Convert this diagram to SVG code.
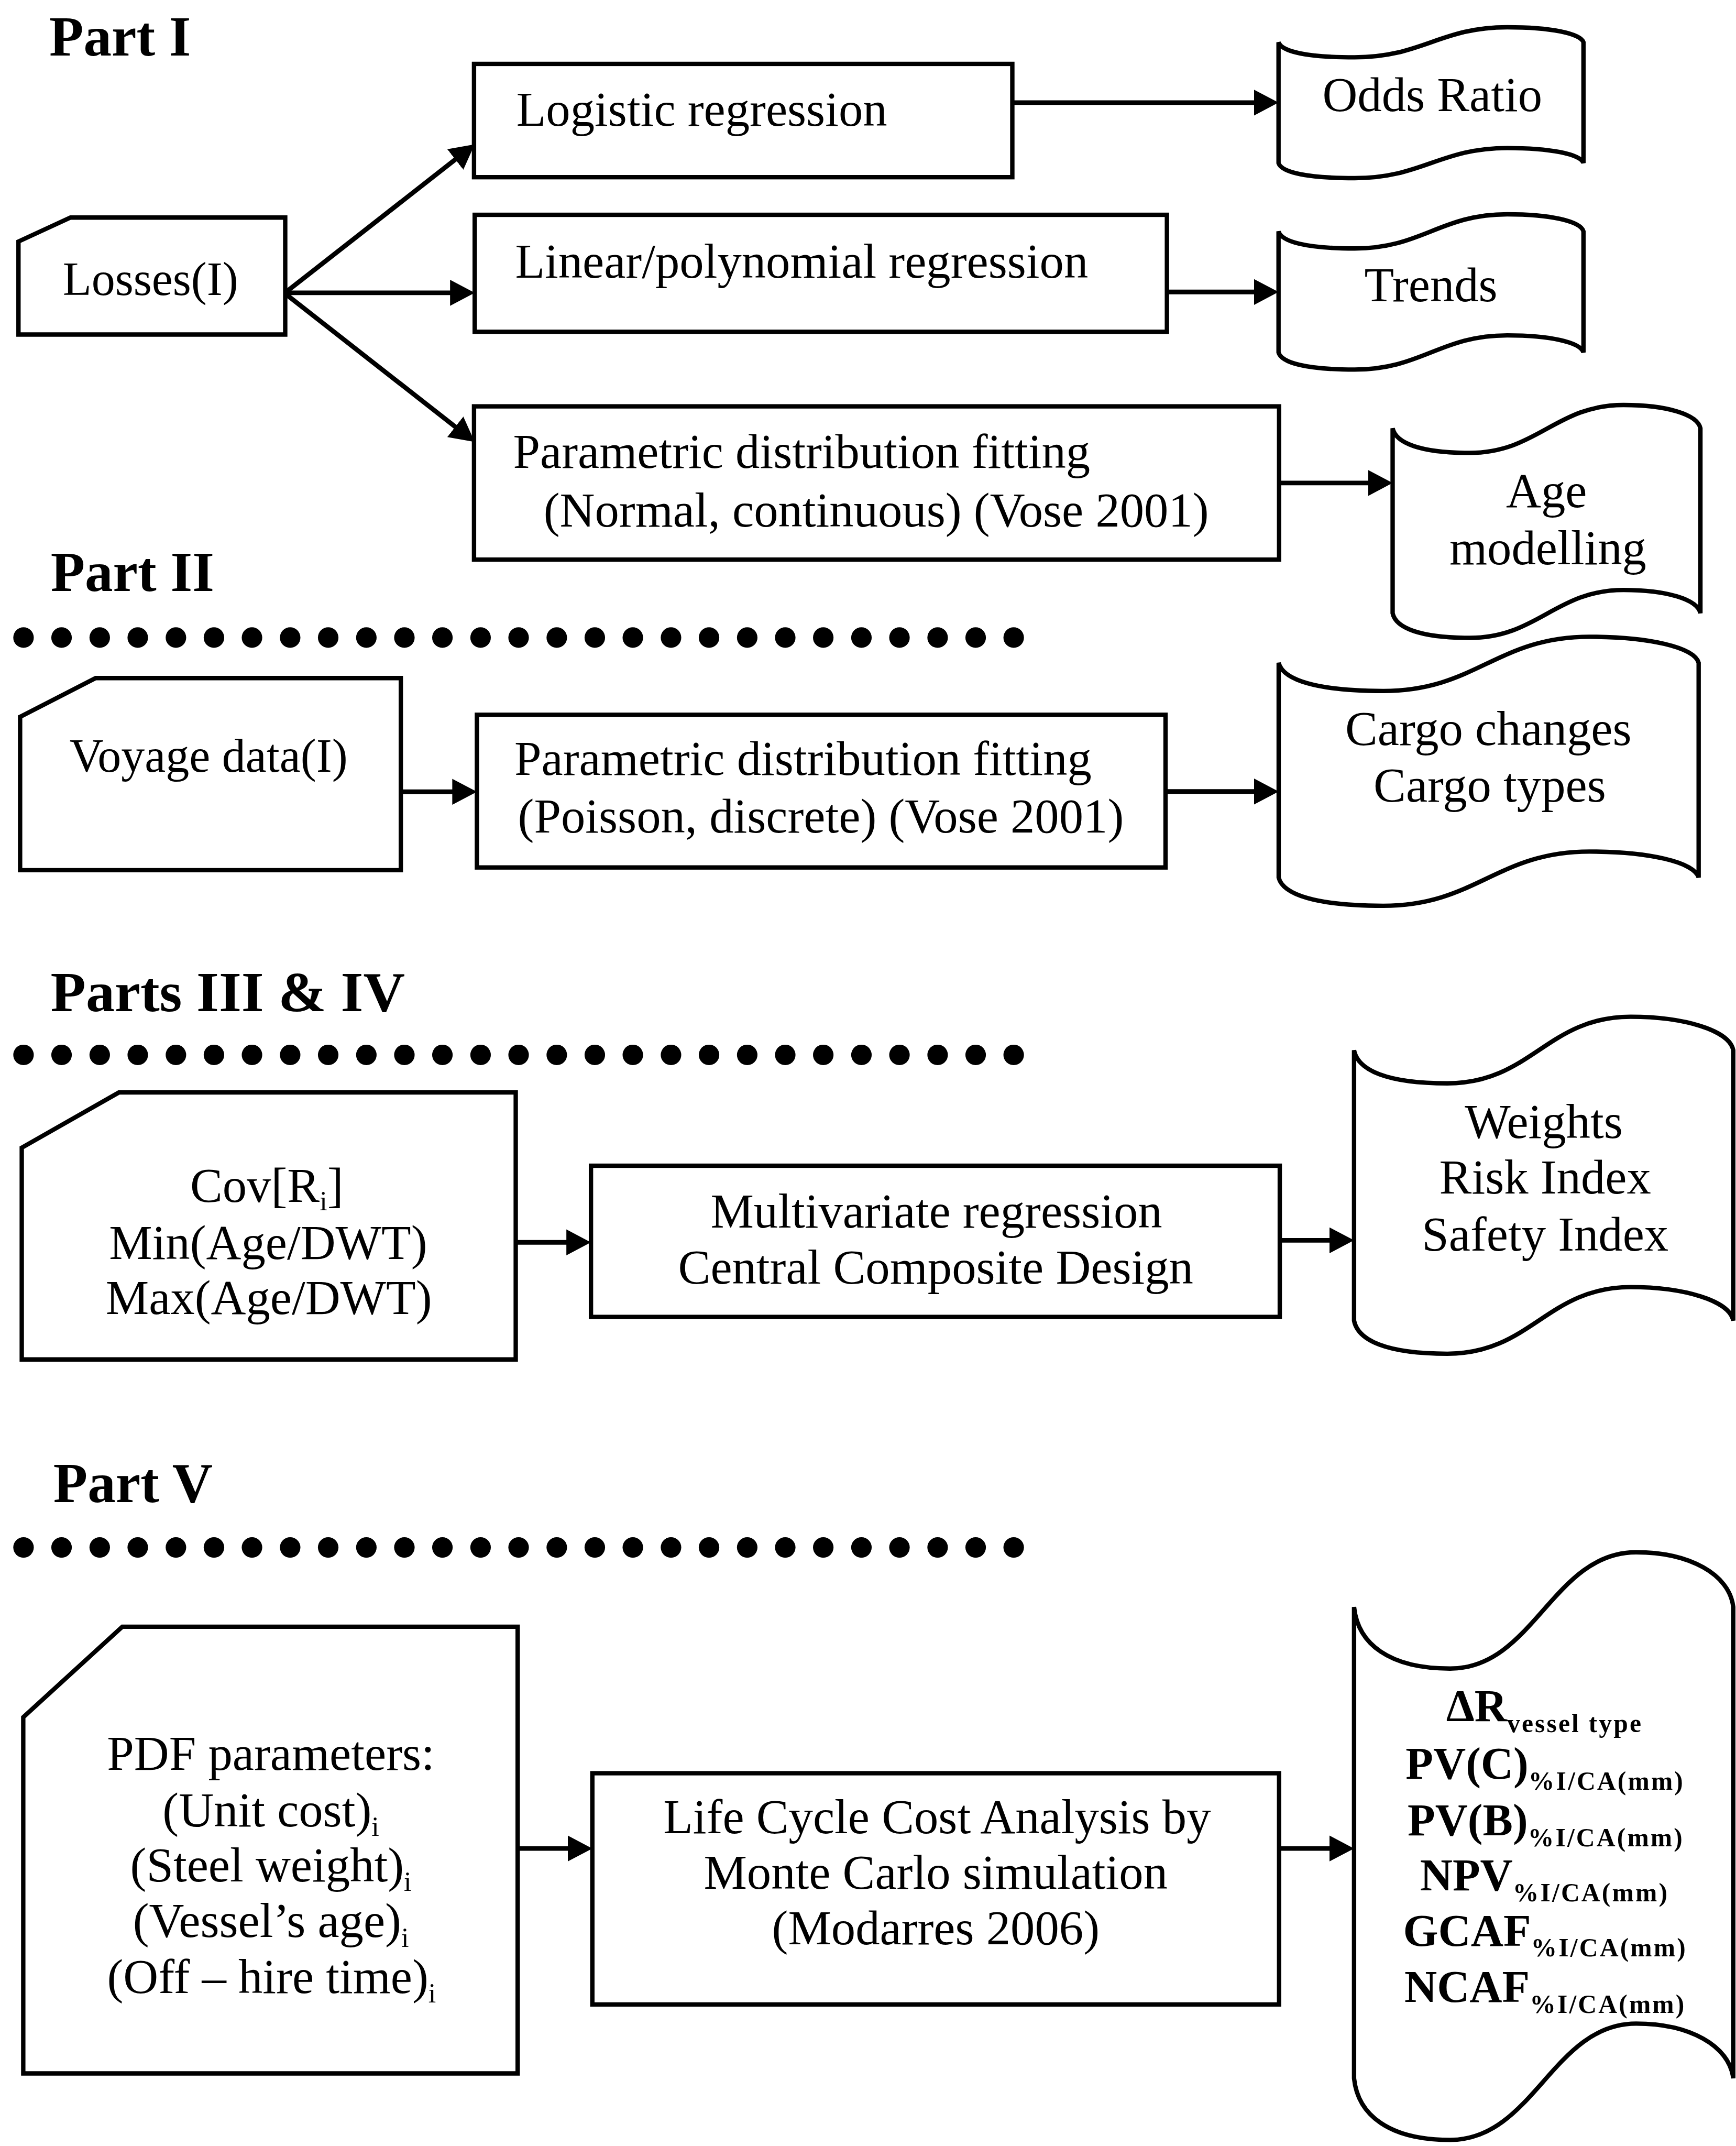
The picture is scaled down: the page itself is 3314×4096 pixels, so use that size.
<svg xmlns="http://www.w3.org/2000/svg" width="3314" height="4096" viewBox="0 0 3314 4096">
  <style>
    .box { fill: #fff; stroke: #000; stroke-width: 3.2; stroke-linejoin: miter; }
    .t { font-family: "Liberation Serif", "Times New Roman", serif; font-size: 35.5px; text-anchor: middle; fill: #000; }
    .h { font-family: "Liberation Serif", "Times New Roman", serif; font-size: 41px; font-weight: bold; fill: #000; }
    .r { font-family: "Liberation Serif", "Times New Roman", serif; font-size: 33px; font-weight: bold; text-anchor: middle; fill: #000; }
    .sb { font-size: 19px; letter-spacing: 1.2px; }
    .si { font-size: 20px; }
    .conn line { stroke: #000; stroke-width: 3.4; fill: none; }
    .dot { fill: #000; }
  </style>
  <defs>
    <marker id="ah" markerUnits="userSpaceOnUse" viewBox="0 0 18 19" markerWidth="18" markerHeight="19" refX="10" refY="9.5" orient="auto">
      <path d="M0,0 L18,9.5 L0,19 Z" fill="#000"/>
    </marker>
    <g id="dotrow">
      <circle class="dot" cx="17.2" cy="0" r="7.5"/>
      <circle class="dot" cx="45.0" cy="0" r="7.5"/>
      <circle class="dot" cx="72.9" cy="0" r="7.5"/>
      <circle class="dot" cx="100.7" cy="0" r="7.5"/>
      <circle class="dot" cx="128.6" cy="0" r="7.5"/>
      <circle class="dot" cx="156.4" cy="0" r="7.5"/>
      <circle class="dot" cx="184.2" cy="0" r="7.5"/>
      <circle class="dot" cx="212.1" cy="0" r="7.5"/>
      <circle class="dot" cx="239.9" cy="0" r="7.5"/>
      <circle class="dot" cx="267.8" cy="0" r="7.5"/>
      <circle class="dot" cx="295.6" cy="0" r="7.5"/>
      <circle class="dot" cx="323.4" cy="0" r="7.5"/>
      <circle class="dot" cx="351.3" cy="0" r="7.5"/>
      <circle class="dot" cx="379.1" cy="0" r="7.5"/>
      <circle class="dot" cx="407.0" cy="0" r="7.5"/>
      <circle class="dot" cx="434.8" cy="0" r="7.5"/>
      <circle class="dot" cx="462.6" cy="0" r="7.5"/>
      <circle class="dot" cx="490.5" cy="0" r="7.5"/>
      <circle class="dot" cx="518.3" cy="0" r="7.5"/>
      <circle class="dot" cx="546.2" cy="0" r="7.5"/>
      <circle class="dot" cx="574.0" cy="0" r="7.5"/>
      <circle class="dot" cx="601.8" cy="0" r="7.5"/>
      <circle class="dot" cx="629.7" cy="0" r="7.5"/>
      <circle class="dot" cx="657.5" cy="0" r="7.5"/>
      <circle class="dot" cx="685.4" cy="0" r="7.5"/>
      <circle class="dot" cx="713.2" cy="0" r="7.5"/>
      <circle class="dot" cx="741.0" cy="0" r="7.5"/>
    </g>
  </defs>

  <rect width="3314" height="4096" fill="#fff"/>

  <!-- layout drawn on a 1269-wide grid, scaled up to the full page -->
  <g transform="scale(2.6115)">

    <!-- section headings and dotted separators -->
    <g id="headings">
      <text class="h" x="36" y="40.7">Part I</text>
      <text class="h" x="37" y="432">Part II</text>
      <text class="h" x="37" y="739" textLength="259" lengthAdjust="spacingAndGlyphs">Parts III &amp; IV</text>
      <text class="h" x="39" y="1098">Part V</text>
      <use href="#dotrow" y="466"/>
      <use href="#dotrow" y="771"/>
      <use href="#dotrow" y="1131"/>
    </g>

    <!-- connectors -->
    <g id="connectors" class="conn">
      <line x1="209" y1="213.5" x2="340.7" y2="110.4" marker-end="url(#ah)"/>
      <line x1="209" y1="214" x2="339" y2="214" marker-end="url(#ah)"/>
      <line x1="209" y1="215" x2="340.7" y2="318.1" marker-end="url(#ah)"/>
      <line x1="740" y1="75" x2="926.6" y2="75" marker-end="url(#ah)"/>
      <line x1="853" y1="213.4" x2="926.6" y2="213.4" marker-end="url(#ah)"/>
      <line x1="935" y1="353" x2="1010" y2="353" marker-end="url(#ah)"/>
      <line x1="293" y1="578.7" x2="340.6" y2="578.7" marker-end="url(#ah)"/>
      <line x1="852" y1="578.5" x2="926.7" y2="578.5" marker-end="url(#ah)"/>
      <line x1="377" y1="908" x2="424" y2="908" marker-end="url(#ah)"/>
      <line x1="935.5" y1="906.5" x2="981.8" y2="906.5" marker-end="url(#ah)"/>
      <line x1="378.4" y1="1351" x2="425" y2="1351" marker-end="url(#ah)"/>
      <line x1="935" y1="1351" x2="981.8" y2="1351" marker-end="url(#ah)"/>
    </g>

    <!-- Part I -->
    <g id="losses">
      <path class="box" d="M13.5,176.5 L51.5,159 L208.5,159 L208.5,244.5 L13.5,244.5 Z"/>
      <text class="t" x="110" y="215.6" style="font-size:34.5px">Losses(I)</text>
    </g>
    <g id="logistic">
      <rect class="box" x="346.5" y="46.7" width="393.5" height="82.8"/>
      <text class="t" x="513" y="92">Logistic regression</text>
    </g>
    <g id="linear">
      <rect class="box" x="347" y="157" width="506" height="85.5"/>
      <text class="t" x="586" y="203">Linear/polynomial regression</text>
    </g>
    <g id="fit-normal">
      <rect class="box" x="346.5" y="297" width="588.5" height="112"/>
      <text class="t" x="586" y="342">Parametric distribution fitting</text>
      <text class="t" x="640.5" y="385">(Normal, continuous) (Vose 2001)</text>
    </g>
    <g id="odds">
      <path class="box" d="M934.6,30.9 C936.8,37.5 954.6,41.9 990.3,41.9 C1039.3,41.9 1052.8,19.9 1101.8,19.9 C1133,19.9 1155.3,24.3 1157.5,30.9 L1157.5,119.2 C1155.3,112.6 1133,108.2 1101.8,108.2 C1052.8,108.2 1039.3,130.2 990.3,130.2 C954.6,130.2 936.8,125.8 934.6,119.2 Z"/>
      <text class="t" x="1047" y="81">Odds Ratio</text>
    </g>
    <g id="trends">
      <path class="box" d="M934.6,169.1 C936.8,176.6 954.6,181.6 990.3,181.6 C1039.3,181.6 1052.8,156.6 1101.8,156.6 C1133,156.6 1155.3,161.6 1157.5,169.1 L1157.5,257.6 C1155.3,250.1 1133,245.1 1101.8,245.1 C1052.8,245.1 1039.3,270.1 990.3,270.1 C954.6,270.1 936.8,265.1 934.6,257.6 Z"/>
      <text class="t" x="1046" y="220">Trends</text>
    </g>
    <g id="age">
      <path class="box" d="M1018,313 C1020.25,323.8 1038.25,331 1074.25,331 C1123.75,331 1137.25,296 1186.75,296 C1218.25,296 1240.75,302.8 1243,313 L1243,448.2 C1240.75,438 1218.25,431.2 1186.75,431.2 C1137.25,431.2 1123.75,466.2 1074.25,466.2 C1038.25,466.2 1020.25,459 1018,448.2 Z"/>
      <text class="t" x="1130.5" y="370.7">Age</text>
      <text class="t" x="1131.5" y="412.5">modelling</text>
    </g>

    <!-- Part II -->
    <g id="voyage">
      <path class="box" d="M14.7,523.9 L69.9,495.6 L293,495.6 L293,636 L14.7,636 Z"/>
      <text class="t" x="152.5" y="564" style="font-size:34.5px">Voyage data(I)</text>
    </g>
    <g id="fit-poisson">
      <rect class="box" x="348.6" y="522.4" width="503.4" height="111.6"/>
      <text class="t" x="587" y="566.5">Parametric distribution fitting</text>
      <text class="t" x="600" y="608.5">(Poisson, discrete) (Vose 2001)</text>
    </g>
    <g id="cargo">
      <path class="box" d="M934.7,484.4 C937.8,496.8 962,505 1011.1,505 C1078.6,505 1094.4,465.4 1161.9,465.4 C1204.9,465.4 1238.6,473 1241.7,484.4 L1241.7,641.4 C1238.6,630 1204.9,622.4 1161.9,622.4 C1094.4,622.4 1078.6,662 1011.1,662 C962,662 937.8,653.8 934.7,641.4 Z"/>
      <text class="t" x="1088" y="544.5">Cargo changes</text>
      <text class="t" x="1089" y="586">Cargo types</text>
    </g>

    <!-- Parts III & IV -->
    <g id="bounds">
      <path class="box" d="M15.9,838.8 L87,798.4 L377,798.4 L377,993.6 L15.9,993.6 Z"/>
      <text class="t" x="195" y="878.4">Cov[R<tspan class="si" dy="6">i</tspan><tspan dy="-6">]</tspan></text>
      <text class="t" x="196" y="920">Min(Age/DWT)</text>
      <text class="t" x="196.5" y="960.4">Max(Age/DWT)</text>
    </g>
    <g id="multivariate">
      <rect class="box" x="432" y="852" width="503.5" height="110.5"/>
      <text class="t" x="684.5" y="897">Multivariate regression</text>
      <text class="t" x="684" y="938">Central Composite Design</text>
    </g>
    <g id="weights">
      <path class="box" d="M989.8,767.6 C992.6,782.1 1013.6,791.8 1058,791.8 C1119,791.8 1131,743.1 1192,743.1 C1230.8,743.1 1264.2,752.9 1267,767.6 L1267,965.2 C1264.2,950.5 1230.8,940.7 1192,940.7 C1131,940.7 1119,989.4 1058,989.4 C1013.6,989.4 992.6,979.7 989.8,965.2 Z"/>
      <text class="t" x="1128.5" y="831.7">Weights</text>
      <text class="t" x="1129.5" y="872.4">Risk Index</text>
      <text class="t" x="1129.5" y="914">Safety Index</text>
    </g>

    <!-- Part V -->
    <g id="pdf-params">
      <path class="box" d="M17,1255.1 L89.4,1188.9 L378.4,1188.9 L378.4,1515.4 L17,1515.4 Z"/>
      <text class="t" x="198" y="1293.6">PDF parameters:</text>
      <text class="t" x="198" y="1334.8">(Unit cost)<tspan class="si" dy="7">i</tspan></text>
      <text class="t" x="198" y="1375">(Steel weight)<tspan class="si" dy="7">i</tspan></text>
      <text class="t" x="198" y="1415.8">(Vessel’s age)<tspan class="si" dy="7">i</tspan></text>
      <text class="t" x="198.5" y="1456.6">(Off – hire time)<tspan class="si" dy="7">i</tspan></text>
    </g>
    <g id="lcca">
      <rect class="box" x="433" y="1296" width="502" height="169"/>
      <text class="t" x="685" y="1339.7">Life Cycle Cost Analysis by</text>
      <text class="t" x="684" y="1380.6">Monte Carlo simulation</text>
      <text class="t" x="684" y="1421">(Modarres 2006)</text>
    </g>
    <g id="results">
      <path class="box" d="M989.8,1174.5 C992.6,1201.5 1015.6,1219.5 1060,1219.5 C1121,1219.5 1135,1134.5 1196,1134.5 C1234.8,1134.5 1264.2,1150.5 1267,1174.5 L1267,1519 C1264.2,1495 1234.8,1479 1196,1479 C1135,1479 1121,1564 1060,1564 C1015.6,1564 992.6,1546 989.8,1519 Z"/>
      <text class="r" x="1129" y="1258">ΔR<tspan class="sb" dy="8">vessel type</tspan></text>
      <text class="r" x="1129.5" y="1300">PV(C)<tspan class="sb" dy="8">%I/CA(mm)</tspan></text>
      <text class="r" x="1130" y="1341.4">PV(B)<tspan class="sb" dy="8">%I/CA(mm)</tspan></text>
      <text class="r" x="1129" y="1381.5">NPV<tspan class="sb" dy="8">%I/CA(mm)</tspan></text>
      <text class="r" x="1129.5" y="1422">GCAF<tspan class="sb" dy="8">%I/CA(mm)</tspan></text>
      <text class="r" x="1129.5" y="1463">NCAF<tspan class="sb" dy="8">%I/CA(mm)</tspan></text>
    </g>
  </g>
</svg>
